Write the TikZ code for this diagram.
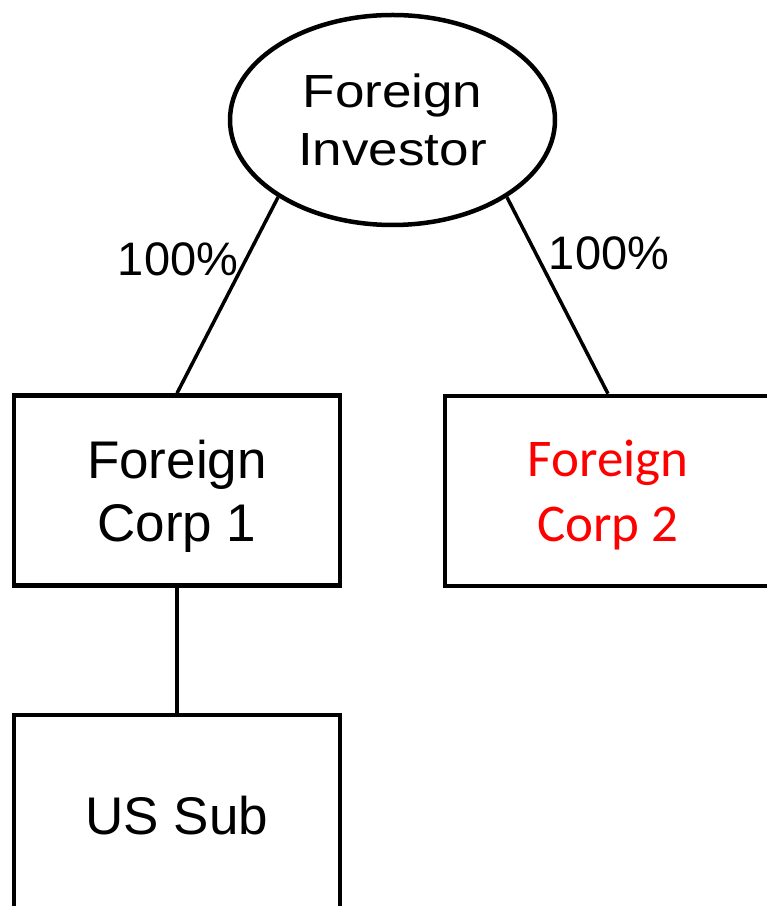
\documentclass[tikz,border=0pt]{standalone}
\usepackage{fontspec}
\setmainfont{Liberation Sans}
\newfontfamily\widefont{Liberation Sans}[FakeStretch=1.14]
\newfontfamily\calibrifont{Carlito}
\usetikzlibrary{shapes.geometric}

\begin{document}
\begin{tikzpicture}[x=1pt,y=1pt,
    owner/.style={draw,ellipse,line width=4.5pt,minimum width=325pt,minimum height=210pt,inner sep=0pt,align=center,font=\widefont\fontsize{46.5}{58}\selectfont},
    corp/.style={draw,rectangle,line width=4.5pt,minimum width=326pt,minimum height=190pt,inner sep=0pt,align=center,text depth=0pt,font=\fontsize{53}{63}\selectfont},
    link/.style={line width=3.5pt},
    share/.style={font=\fontsize{47}{54}\selectfont,inner sep=0pt}]

\useasboundingbox (0,0) rectangle (767,906);

% owner and companies
\node[owner] (inv) at (392.5,786) {Foreign\\Investor};
\node[corp] (corpa) at (177,415.5) {Foreign\\Corp 1};
\node[corp,text=red,font=\calibrifont\fontsize{53}{65}\selectfont] (corpb) at (608,415) {Foreign\\Corp 2};
\node[corp,minimum height=200pt] (ussub) at (177,91) {US Sub};

% ownership lines
\draw[link] (inv.214.5) -- (corpa.north);
\draw[link] (inv.326) -- (corpb.north);
\draw[link] (corpa.south) -- (ussub.north);

% percentages
\node[share] (pcta) at (178,647) {100\%};
\node[share] (pctb) at (609,653) {100\%};

\end{tikzpicture}
\end{document}
